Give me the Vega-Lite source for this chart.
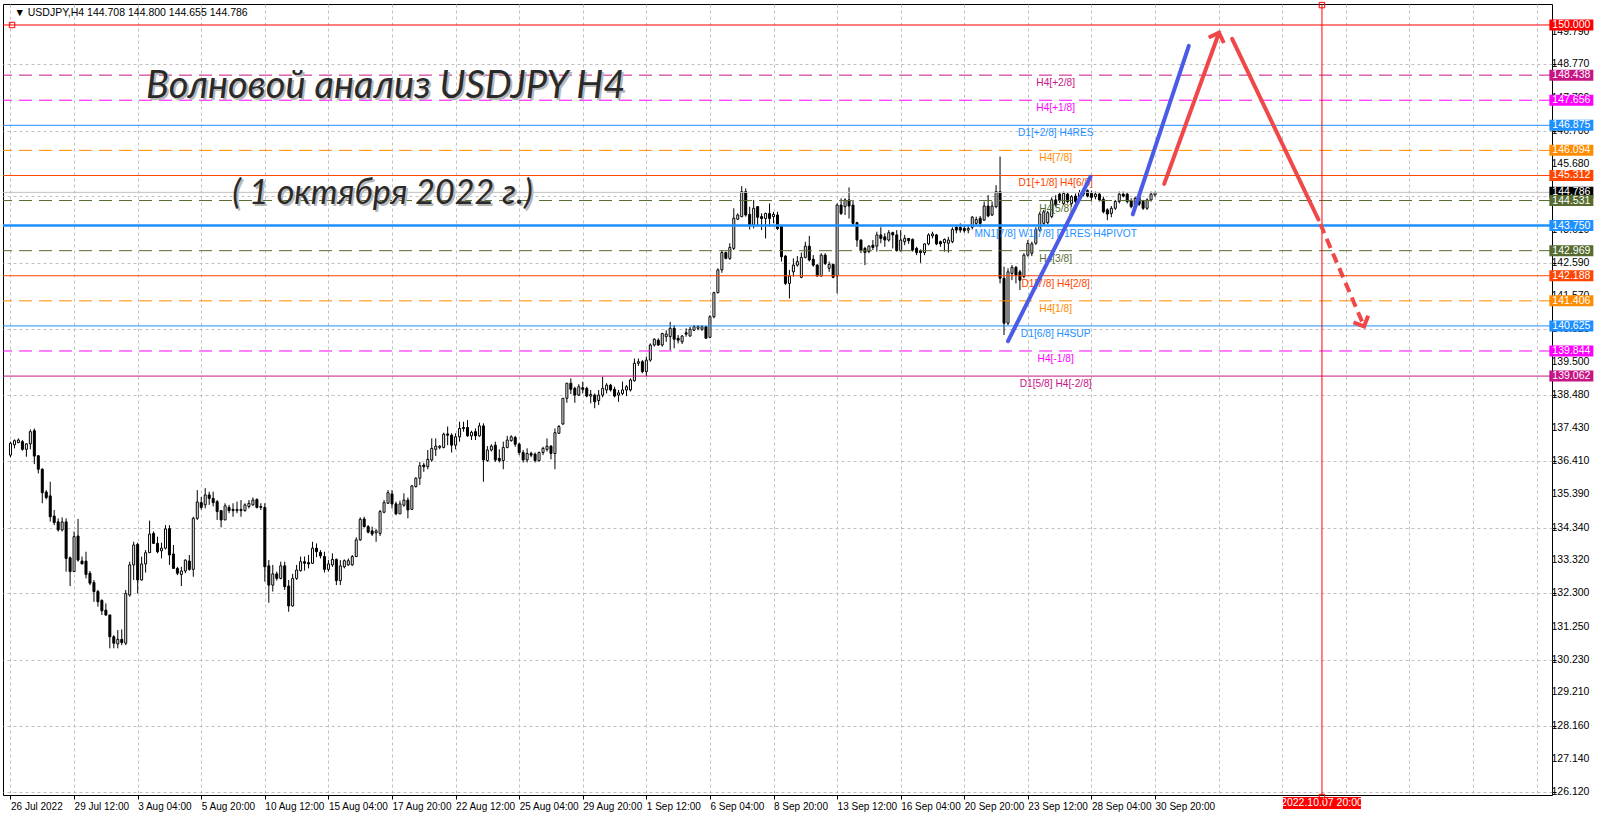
{
"$schema":"https://vega.github.io/schema/vega-lite/v6.json",
"width":1549,"height":791,
"autosize":{"type":"none"},
"padding":{"left":3,"top":4,"right":48,"bottom":22},
"background":"white",
"config":{"view":{"stroke":"black","strokeWidth":1},"font":"Liberation Sans","axis":{"labelOverlap":false},"axisY":{"labelOverlap":false},"axisQuantitative":{"labelOverlap":false}},
"datasets":{
"candles":[
{"i":0,"o":136.60,"h":137.02,"l":136.53,"c":136.97},
{"i":1,"o":136.92,"h":137.09,"l":136.81,"c":137.05},
{"i":2,"o":136.99,"h":137.12,"l":136.97,"c":137.07},
{"i":3,"o":137.02,"h":137.07,"l":136.74,"c":136.78},
{"i":4,"o":136.78,"h":136.97,"l":136.55,"c":136.95},
{"i":5,"o":136.95,"h":137.40,"l":136.78,"c":137.33},
{"i":6,"o":137.36,"h":137.43,"l":136.32,"c":136.57},
{"i":7,"o":136.58,"h":136.60,"l":136.03,"c":136.16},
{"i":8,"o":136.16,"h":136.19,"l":135.10,"c":135.43},
{"i":9,"o":135.45,"h":135.51,"l":135.22,"c":135.28},
{"i":10,"o":135.33,"h":135.77,"l":134.53,"c":134.68},
{"i":11,"o":134.70,"h":134.89,"l":134.42,"c":134.50},
{"i":12,"o":134.52,"h":134.63,"l":134.22,"c":134.27},
{"i":13,"o":134.27,"h":134.66,"l":134.22,"c":134.52},
{"i":14,"o":134.52,"h":134.63,"l":132.97,"c":133.38},
{"i":15,"o":133.40,"h":133.44,"l":132.52,"c":132.97},
{"i":16,"o":132.97,"h":134.22,"l":132.97,"c":134.06},
{"i":17,"o":134.08,"h":134.61,"l":133.28,"c":133.33},
{"i":18,"o":133.30,"h":133.44,"l":133.21,"c":133.21},
{"i":19,"o":133.30,"h":133.59,"l":132.76,"c":132.88},
{"i":20,"o":132.92,"h":132.99,"l":132.55,"c":132.61},
{"i":21,"o":132.63,"h":132.71,"l":132.03,"c":132.35},
{"i":22,"o":132.35,"h":132.40,"l":131.88,"c":132.03},
{"i":23,"o":132.07,"h":132.11,"l":131.62,"c":131.75},
{"i":24,"o":131.77,"h":131.98,"l":131.59,"c":131.62},
{"i":25,"o":131.62,"h":131.62,"l":130.58,"c":130.94},
{"i":26,"o":130.94,"h":130.99,"l":130.58,"c":130.74},
{"i":27,"o":130.72,"h":131.15,"l":130.58,"c":130.86},
{"i":28,"o":130.86,"h":131.17,"l":130.68,"c":130.76},
{"i":29,"o":130.74,"h":132.40,"l":130.68,"c":132.29},
{"i":30,"o":132.24,"h":133.28,"l":132.19,"c":133.18},
{"i":31,"o":133.18,"h":133.90,"l":132.71,"c":133.80},
{"i":32,"o":133.82,"h":133.87,"l":132.29,"c":132.71},
{"i":33,"o":132.71,"h":133.44,"l":132.69,"c":133.21},
{"i":34,"o":133.21,"h":133.64,"l":132.94,"c":133.56},
{"i":35,"o":133.56,"h":134.56,"l":133.56,"c":134.14},
{"i":36,"o":134.16,"h":134.22,"l":133.83,"c":133.85},
{"i":37,"o":133.85,"h":134.06,"l":133.54,"c":133.59},
{"i":38,"o":133.62,"h":133.87,"l":133.38,"c":133.70},
{"i":39,"o":133.70,"h":134.42,"l":133.66,"c":134.30},
{"i":40,"o":134.31,"h":134.42,"l":133.18,"c":133.49},
{"i":41,"o":133.52,"h":133.80,"l":133.07,"c":133.07},
{"i":42,"o":133.07,"h":133.12,"l":132.86,"c":132.92},
{"i":43,"o":132.88,"h":133.12,"l":132.52,"c":132.99},
{"i":44,"o":132.99,"h":133.35,"l":132.92,"c":133.33},
{"i":45,"o":133.30,"h":133.49,"l":133.00,"c":133.04},
{"i":46,"o":133.04,"h":134.68,"l":132.81,"c":134.63},
{"i":47,"o":134.63,"h":135.51,"l":134.58,"c":135.14},
{"i":48,"o":135.12,"h":135.30,"l":134.90,"c":134.97},
{"i":49,"o":135.05,"h":135.57,"l":134.94,"c":135.36},
{"i":50,"o":135.36,"h":135.46,"l":135.05,"c":135.25},
{"i":51,"o":135.25,"h":135.46,"l":135.00,"c":135.12},
{"i":52,"o":135.15,"h":135.20,"l":134.58,"c":134.84},
{"i":53,"o":134.87,"h":134.89,"l":134.35,"c":134.58},
{"i":54,"o":134.58,"h":135.10,"l":134.58,"c":135.02},
{"i":55,"o":134.97,"h":135.05,"l":134.79,"c":134.87},
{"i":56,"o":134.91,"h":135.10,"l":134.68,"c":134.87},
{"i":57,"o":134.87,"h":135.15,"l":134.79,"c":134.91},
{"i":58,"o":134.91,"h":135.20,"l":134.68,"c":134.87},
{"i":59,"o":134.87,"h":135.10,"l":134.84,"c":135.05},
{"i":60,"o":135.00,"h":135.20,"l":134.94,"c":135.10},
{"i":61,"o":135.05,"h":135.28,"l":135.02,"c":135.20},
{"i":62,"o":135.22,"h":135.25,"l":134.94,"c":134.97},
{"i":63,"o":134.97,"h":135.10,"l":134.89,"c":135.00},
{"i":64,"o":134.97,"h":135.10,"l":132.66,"c":133.12},
{"i":65,"o":133.15,"h":133.33,"l":132.00,"c":132.55},
{"i":66,"o":132.55,"h":133.18,"l":132.35,"c":132.90},
{"i":67,"o":132.90,"h":132.97,"l":132.69,"c":132.76},
{"i":68,"o":132.76,"h":133.28,"l":132.73,"c":133.15},
{"i":69,"o":133.15,"h":133.28,"l":132.40,"c":132.50},
{"i":70,"o":132.52,"h":132.71,"l":131.72,"c":131.90},
{"i":71,"o":131.90,"h":132.90,"l":131.88,"c":132.76},
{"i":72,"o":132.76,"h":133.18,"l":132.71,"c":133.02},
{"i":73,"o":133.00,"h":133.44,"l":132.97,"c":133.28},
{"i":74,"o":133.28,"h":133.44,"l":133.00,"c":133.23},
{"i":75,"o":133.25,"h":133.49,"l":133.07,"c":133.21},
{"i":76,"o":133.23,"h":133.90,"l":133.21,"c":133.70},
{"i":77,"o":133.70,"h":133.85,"l":133.42,"c":133.59},
{"i":78,"o":133.57,"h":133.64,"l":133.38,"c":133.46},
{"i":79,"o":133.44,"h":133.59,"l":132.94,"c":133.04},
{"i":80,"o":133.04,"h":133.33,"l":132.97,"c":133.21},
{"i":81,"o":133.18,"h":133.54,"l":133.12,"c":133.35},
{"i":82,"o":133.35,"h":133.38,"l":132.55,"c":132.69},
{"i":83,"o":132.69,"h":133.33,"l":132.55,"c":133.15},
{"i":84,"o":133.12,"h":133.35,"l":133.07,"c":133.31},
{"i":85,"o":133.18,"h":133.38,"l":133.15,"c":133.31},
{"i":86,"o":133.18,"h":133.49,"l":133.15,"c":133.44},
{"i":87,"o":133.44,"h":134.04,"l":133.42,"c":133.96},
{"i":88,"o":133.96,"h":134.66,"l":133.93,"c":134.60},
{"i":89,"o":134.61,"h":134.68,"l":134.35,"c":134.37},
{"i":90,"o":134.37,"h":134.42,"l":134.16,"c":134.20},
{"i":91,"o":134.24,"h":134.37,"l":134.08,"c":134.14},
{"i":92,"o":134.18,"h":134.29,"l":133.90,"c":134.24},
{"i":93,"o":134.16,"h":134.89,"l":134.08,"c":134.84},
{"i":94,"o":134.82,"h":135.20,"l":134.79,"c":135.12},
{"i":95,"o":135.10,"h":135.51,"l":135.08,"c":135.43},
{"i":96,"o":135.39,"h":135.51,"l":134.94,"c":135.08},
{"i":97,"o":135.08,"h":135.15,"l":134.73,"c":134.77},
{"i":98,"o":134.77,"h":135.18,"l":134.77,"c":135.08},
{"i":99,"o":135.04,"h":135.41,"l":134.99,"c":135.20},
{"i":100,"o":135.20,"h":135.28,"l":134.63,"c":134.89},
{"i":101,"o":134.91,"h":135.67,"l":134.89,"c":135.64},
{"i":102,"o":135.62,"h":135.91,"l":135.59,"c":135.88},
{"i":103,"o":135.88,"h":136.39,"l":135.67,"c":136.27},
{"i":104,"o":136.29,"h":136.36,"l":136.08,"c":136.24},
{"i":105,"o":136.24,"h":136.76,"l":136.16,"c":136.47},
{"i":106,"o":136.45,"h":137.12,"l":136.39,"c":136.81},
{"i":107,"o":136.78,"h":137.12,"l":136.57,"c":136.88},
{"i":108,"o":136.84,"h":136.91,"l":136.78,"c":136.88},
{"i":109,"o":136.84,"h":137.30,"l":136.81,"c":137.25},
{"i":110,"o":137.26,"h":137.49,"l":136.91,"c":137.22},
{"i":111,"o":137.22,"h":137.28,"l":136.68,"c":136.91},
{"i":112,"o":136.91,"h":137.28,"l":136.78,"c":137.17},
{"i":113,"o":137.17,"h":137.64,"l":137.02,"c":137.43},
{"i":114,"o":137.46,"h":137.64,"l":137.33,"c":137.43},
{"i":115,"o":137.46,"h":137.69,"l":137.17,"c":137.20},
{"i":116,"o":137.20,"h":137.36,"l":137.07,"c":137.31},
{"i":117,"o":137.33,"h":137.43,"l":137.07,"c":137.20},
{"i":118,"o":137.20,"h":137.61,"l":137.17,"c":137.51},
{"i":119,"o":137.51,"h":137.59,"l":135.77,"c":136.45},
{"i":120,"o":136.43,"h":136.88,"l":136.39,"c":136.76},
{"i":121,"o":136.76,"h":136.94,"l":136.71,"c":136.88},
{"i":122,"o":136.91,"h":137.02,"l":136.39,"c":136.45},
{"i":123,"o":136.50,"h":136.78,"l":136.37,"c":136.43},
{"i":124,"o":136.43,"h":137.02,"l":136.16,"c":136.84},
{"i":125,"o":136.84,"h":137.20,"l":136.81,"c":137.07},
{"i":126,"o":137.05,"h":137.22,"l":137.02,"c":137.17},
{"i":127,"o":137.15,"h":137.20,"l":136.86,"c":136.94},
{"i":128,"o":136.94,"h":136.99,"l":136.60,"c":136.68},
{"i":129,"o":136.68,"h":136.76,"l":136.37,"c":136.45},
{"i":130,"o":136.45,"h":136.81,"l":136.37,"c":136.65},
{"i":131,"o":136.65,"h":136.71,"l":136.53,"c":136.60},
{"i":132,"o":136.63,"h":136.68,"l":136.37,"c":136.43},
{"i":133,"o":136.43,"h":136.71,"l":136.39,"c":136.68},
{"i":134,"o":136.68,"h":136.86,"l":136.60,"c":136.81},
{"i":135,"o":136.78,"h":137.12,"l":136.71,"c":136.88},
{"i":136,"o":136.88,"h":136.91,"l":136.47,"c":136.65},
{"i":137,"o":136.65,"h":137.43,"l":136.16,"c":137.30},
{"i":138,"o":137.28,"h":137.54,"l":137.26,"c":137.49},
{"i":139,"o":137.57,"h":138.37,"l":137.54,"c":138.37},
{"i":140,"o":138.37,"h":138.84,"l":138.23,"c":138.84},
{"i":141,"o":138.84,"h":138.99,"l":138.50,"c":138.65},
{"i":142,"o":138.68,"h":138.73,"l":138.23,"c":138.47},
{"i":143,"o":138.47,"h":138.81,"l":138.44,"c":138.73},
{"i":144,"o":138.70,"h":138.89,"l":138.52,"c":138.65},
{"i":145,"o":138.68,"h":138.73,"l":138.40,"c":138.44},
{"i":146,"o":138.44,"h":138.63,"l":138.21,"c":138.49},
{"i":147,"o":138.47,"h":138.52,"l":138.06,"c":138.26},
{"i":148,"o":138.30,"h":138.63,"l":138.16,"c":138.47},
{"i":149,"o":138.47,"h":139.04,"l":138.40,"c":138.68},
{"i":150,"o":138.63,"h":138.84,"l":138.52,"c":138.78},
{"i":151,"o":138.78,"h":138.82,"l":138.58,"c":138.63},
{"i":152,"o":138.65,"h":138.73,"l":138.40,"c":138.44},
{"i":153,"o":138.47,"h":138.63,"l":138.26,"c":138.54},
{"i":154,"o":138.52,"h":138.89,"l":138.47,"c":138.63},
{"i":155,"o":138.63,"h":138.78,"l":138.44,"c":138.73},
{"i":156,"o":138.63,"h":138.99,"l":138.58,"c":138.94},
{"i":157,"o":138.92,"h":139.61,"l":138.89,"c":139.46},
{"i":158,"o":139.46,"h":139.61,"l":139.38,"c":139.51},
{"i":159,"o":139.51,"h":139.56,"l":139.15,"c":139.20},
{"i":160,"o":139.20,"h":139.67,"l":139.06,"c":139.56},
{"i":161,"o":139.56,"h":140.08,"l":139.51,"c":140.03},
{"i":162,"o":140.03,"h":140.24,"l":139.98,"c":140.21},
{"i":163,"o":140.18,"h":140.24,"l":140.00,"c":140.03},
{"i":164,"o":140.03,"h":140.41,"l":139.98,"c":140.39},
{"i":165,"o":140.29,"h":140.49,"l":140.13,"c":140.37},
{"i":166,"o":140.29,"h":140.75,"l":139.87,"c":140.55},
{"i":167,"o":140.55,"h":140.65,"l":139.93,"c":140.21},
{"i":168,"o":140.24,"h":140.34,"l":140.08,"c":140.18},
{"i":169,"o":140.13,"h":140.34,"l":140.06,"c":140.31},
{"i":170,"o":140.41,"h":140.55,"l":140.29,"c":140.37},
{"i":171,"o":140.31,"h":140.60,"l":140.29,"c":140.52},
{"i":172,"o":140.49,"h":140.65,"l":140.47,"c":140.60},
{"i":173,"o":140.55,"h":140.65,"l":140.49,"c":140.60},
{"i":174,"o":140.52,"h":140.65,"l":140.47,"c":140.60},
{"i":175,"o":140.60,"h":140.62,"l":140.24,"c":140.24},
{"i":176,"o":140.27,"h":140.96,"l":140.24,"c":140.91},
{"i":177,"o":140.91,"h":141.69,"l":140.86,"c":141.66},
{"i":178,"o":141.66,"h":142.42,"l":141.64,"c":142.37},
{"i":179,"o":142.37,"h":142.99,"l":142.28,"c":142.91},
{"i":180,"o":142.91,"h":142.94,"l":142.70,"c":142.73},
{"i":181,"o":142.73,"h":143.20,"l":142.68,"c":143.07},
{"i":182,"o":143.04,"h":144.29,"l":142.99,"c":143.98},
{"i":183,"o":143.95,"h":144.13,"l":143.92,"c":144.08},
{"i":184,"o":144.03,"h":144.98,"l":144.01,"c":144.81},
{"i":185,"o":144.81,"h":144.91,"l":144.03,"c":144.08},
{"i":186,"o":144.10,"h":144.34,"l":143.63,"c":143.77},
{"i":187,"o":143.77,"h":144.55,"l":143.66,"c":144.29},
{"i":188,"o":144.34,"h":144.36,"l":143.72,"c":144.01},
{"i":189,"o":144.03,"h":144.13,"l":143.61,"c":143.97},
{"i":190,"o":143.97,"h":144.15,"l":143.35,"c":144.13},
{"i":191,"o":144.13,"h":144.44,"l":143.72,"c":143.97},
{"i":192,"o":144.03,"h":144.18,"l":143.82,"c":144.10},
{"i":193,"o":144.08,"h":144.18,"l":143.61,"c":143.66},
{"i":194,"o":143.74,"h":143.77,"l":142.63,"c":142.78},
{"i":195,"o":142.80,"h":142.83,"l":141.90,"c":141.95},
{"i":196,"o":141.95,"h":142.37,"l":141.48,"c":142.18},
{"i":197,"o":142.31,"h":142.73,"l":142.16,"c":142.52},
{"i":198,"o":142.52,"h":142.80,"l":142.47,"c":142.63},
{"i":199,"o":142.14,"h":142.91,"l":142.11,"c":142.76},
{"i":200,"o":142.76,"h":143.25,"l":142.73,"c":143.11},
{"i":201,"o":143.11,"h":143.43,"l":142.63,"c":142.68},
{"i":202,"o":142.70,"h":142.83,"l":142.47,"c":142.52},
{"i":203,"o":142.52,"h":142.55,"l":142.16,"c":142.18},
{"i":204,"o":142.18,"h":142.89,"l":142.16,"c":142.83},
{"i":205,"o":142.83,"h":142.89,"l":142.52,"c":142.57},
{"i":206,"o":142.42,"h":142.63,"l":142.31,"c":142.54},
{"i":207,"o":142.54,"h":142.57,"l":142.11,"c":142.14},
{"i":208,"o":142.18,"h":144.44,"l":141.64,"c":144.39},
{"i":209,"o":144.39,"h":144.60,"l":144.08,"c":144.13},
{"i":210,"o":144.34,"h":144.60,"l":144.08,"c":144.55},
{"i":211,"o":144.55,"h":144.94,"l":143.97,"c":144.36},
{"i":212,"o":144.39,"h":144.55,"l":143.77,"c":143.82},
{"i":213,"o":143.84,"h":143.87,"l":143.09,"c":143.30},
{"i":214,"o":143.30,"h":143.32,"l":142.89,"c":142.99},
{"i":215,"o":143.04,"h":143.09,"l":142.52,"c":142.91},
{"i":216,"o":142.94,"h":143.14,"l":142.89,"c":143.11},
{"i":217,"o":143.14,"h":143.30,"l":142.99,"c":143.07},
{"i":218,"o":143.11,"h":143.56,"l":142.94,"c":143.46},
{"i":219,"o":143.46,"h":143.70,"l":143.20,"c":143.35},
{"i":220,"o":143.40,"h":143.51,"l":143.09,"c":143.30},
{"i":221,"o":143.30,"h":143.61,"l":143.25,"c":143.53},
{"i":222,"o":143.53,"h":143.56,"l":143.04,"c":143.46},
{"i":223,"o":143.46,"h":143.61,"l":142.94,"c":142.97},
{"i":224,"o":142.97,"h":143.61,"l":142.94,"c":143.30},
{"i":225,"o":143.25,"h":143.46,"l":143.14,"c":143.35},
{"i":226,"o":143.35,"h":143.35,"l":143.18,"c":143.28},
{"i":227,"o":143.32,"h":143.35,"l":142.94,"c":142.99},
{"i":228,"o":143.04,"h":143.09,"l":142.83,"c":142.91},
{"i":229,"o":142.96,"h":143.01,"l":142.59,"c":142.91},
{"i":230,"o":142.91,"h":143.20,"l":142.83,"c":143.18},
{"i":231,"o":143.18,"h":143.51,"l":143.14,"c":143.46},
{"i":232,"o":143.43,"h":143.56,"l":143.35,"c":143.49},
{"i":233,"o":143.46,"h":143.49,"l":143.14,"c":143.18},
{"i":234,"o":143.25,"h":143.28,"l":143.09,"c":143.18},
{"i":235,"o":143.22,"h":143.35,"l":142.94,"c":143.32},
{"i":236,"o":143.20,"h":143.40,"l":142.91,"c":143.30},
{"i":237,"o":143.25,"h":143.70,"l":143.20,"c":143.63},
{"i":238,"o":143.70,"h":143.77,"l":143.51,"c":143.61},
{"i":239,"o":143.69,"h":143.82,"l":143.53,"c":143.61},
{"i":240,"o":143.66,"h":143.77,"l":143.53,"c":143.59},
{"i":241,"o":143.61,"h":143.74,"l":143.51,"c":143.66},
{"i":242,"o":143.70,"h":144.05,"l":143.63,"c":144.01},
{"i":243,"o":143.82,"h":144.03,"l":143.74,"c":143.94},
{"i":244,"o":143.98,"h":144.05,"l":143.70,"c":143.82},
{"i":245,"o":143.92,"h":144.50,"l":143.90,"c":144.36},
{"i":246,"o":144.36,"h":144.70,"l":144.01,"c":144.05},
{"i":247,"o":144.08,"h":144.50,"l":144.05,"c":144.36},
{"i":248,"o":144.34,"h":145.01,"l":144.29,"c":144.81},
{"i":249,"o":144.81,"h":145.90,"l":141.95,"c":142.11},
{"i":250,"o":142.11,"h":142.47,"l":140.34,"c":140.71},
{"i":251,"o":140.71,"h":142.42,"l":140.65,"c":142.31},
{"i":252,"o":142.26,"h":142.52,"l":142.05,"c":142.45},
{"i":253,"o":142.45,"h":142.49,"l":141.95,"c":142.21},
{"i":254,"o":142.31,"h":142.37,"l":141.74,"c":142.05},
{"i":255,"o":142.16,"h":142.89,"l":142.11,"c":142.83},
{"i":256,"o":142.83,"h":143.30,"l":142.78,"c":143.20},
{"i":257,"o":142.89,"h":143.25,"l":142.80,"c":143.18},
{"i":258,"o":143.20,"h":143.70,"l":143.15,"c":143.63},
{"i":259,"o":143.61,"h":144.18,"l":143.56,"c":144.11},
{"i":260,"o":143.82,"h":144.24,"l":143.77,"c":144.18},
{"i":261,"o":143.84,"h":144.21,"l":143.80,"c":144.15},
{"i":262,"o":144.03,"h":144.63,"l":143.98,"c":144.55},
{"i":263,"o":144.55,"h":144.70,"l":144.34,"c":144.39},
{"i":264,"o":144.73,"h":144.78,"l":144.46,"c":144.53},
{"i":265,"o":144.44,"h":144.81,"l":144.39,"c":144.75},
{"i":266,"o":144.73,"h":144.78,"l":144.44,"c":144.50},
{"i":267,"o":144.44,"h":144.70,"l":144.34,"c":144.65},
{"i":268,"o":144.67,"h":144.75,"l":144.39,"c":144.50},
{"i":269,"o":144.57,"h":144.86,"l":144.53,"c":144.78},
{"i":270,"o":144.73,"h":144.91,"l":144.67,"c":144.86},
{"i":271,"o":144.84,"h":144.88,"l":144.63,"c":144.67},
{"i":272,"o":144.75,"h":144.84,"l":144.50,"c":144.63},
{"i":273,"o":144.65,"h":144.81,"l":144.57,"c":144.73},
{"i":274,"o":144.73,"h":144.78,"l":144.50,"c":144.55},
{"i":275,"o":144.57,"h":144.65,"l":144.13,"c":144.18},
{"i":276,"o":144.24,"h":144.29,"l":143.92,"c":144.11},
{"i":277,"o":144.13,"h":144.36,"l":144.01,"c":144.29},
{"i":278,"o":144.29,"h":144.55,"l":144.24,"c":144.50},
{"i":279,"o":144.50,"h":144.81,"l":144.44,"c":144.73},
{"i":280,"o":144.73,"h":144.81,"l":144.63,"c":144.67},
{"i":281,"o":144.73,"h":144.78,"l":144.44,"c":144.50},
{"i":282,"o":144.53,"h":144.60,"l":144.29,"c":144.34},
{"i":283,"o":144.39,"h":144.65,"l":144.34,"c":144.60},
{"i":284,"o":144.63,"h":144.70,"l":144.36,"c":144.42},
{"i":285,"o":144.50,"h":144.55,"l":144.24,"c":144.29},
{"i":286,"o":144.29,"h":144.60,"l":144.24,"c":144.55},
{"i":287,"o":144.55,"h":144.81,"l":144.50,"c":144.73},
{"i":288,"o":144.708,"h":144.800,"l":144.655,"c":144.786}
],
"levels":[
{"p":150.000,"lvl":"hline","src":"obj","lbl":""},
{"p":148.438,"lvl":"+2/8","src":"H4","lbl":"H4[+2/8]"},
{"p":147.656,"lvl":"+1/8","src":"H4","lbl":"H4[+1/8]"},
{"p":146.875,"lvl":"8/8","src":"D1","lbl":"D1[+2/8] H4RES"},
{"p":146.094,"lvl":"7/8","src":"H4","lbl":"H4[7/8]"},
{"p":145.312,"lvl":"6/8","src":"D1","lbl":"D1[+1/8] H4[6/8]"},
{"p":144.786,"lvl":"bid","src":"obj","lbl":""},
{"p":144.531,"lvl":"5/8","src":"H4","lbl":"H4[5/8]"},
{"p":143.750,"lvl":"4/8","src":"D1","lbl":"MN1[7/8] W1[7/8] D1RES H4PIVOT"},
{"p":142.969,"lvl":"3/8","src":"H4","lbl":"H4[3/8]"},
{"p":142.188,"lvl":"2/8","src":"D1","lbl":"D1[7/8] H4[2/8]"},
{"p":141.406,"lvl":"1/8","src":"H4","lbl":"H4[1/8]"},
{"p":140.625,"lvl":"0/8","src":"D1","lbl":"D1[6/8] H4SUP"},
{"p":139.844,"lvl":"-1/8","src":"H4","lbl":"H4[-1/8]"},
{"p":139.062,"lvl":"-2/8","src":"D1","lbl":"D1[5/8] H4[-2/8]"}
],
"ticksY":[
{"p":126.12},{"p":127.14},{"p":128.16},{"p":129.21},{"p":130.23},{"p":131.25},{"p":132.3},{"p":133.32},{"p":134.34},{"p":135.39},{"p":136.41},{"p":137.43},{"p":138.48},{"p":139.5},{"p":140.52},{"p":141.57},{"p":142.59},{"p":143.61},{"p":144.66},{"p":145.68},{"p":146.7},{"p":147.72},{"p":148.77},{"p":149.79}
],
"arrows":[
{"seg":"b1","i":251,"p":140.15},
{"seg":"b1","i":271.75,"p":145.27},
{"seg":"b2","i":282.4,"p":144.10},
{"seg":"b2","i":296.5,"p":149.35},
{"seg":"r1","i":290.3,"p":145.05},
{"seg":"r1","i":304.1,"p":149.76,"tip":"up"},
{"seg":"r2","i":307.4,"p":149.57},
{"seg":"r2","i":329.1,"p":143.94},
{"seg":"r3","i":329.6,"p":143.80},
{"seg":"r3","i":340.6,"p":140.61,"tip":"down"}
]
},
"layer":[
{
"data":{"name":"candles"},
"mark":{"type":"rule","color":"black","strokeWidth":1},
"encoding":{
"x":{"field":"i","type":"quantitative","scale":{"domain":[-0.625,386.625],"nice":false,"zero":false},
"axis":{"title":null,"values":[0,8,16,24,32,40,48,56,64,72,80,88,96,104,112,120,128,136,144,152,160,168,176,184,192,200,208,216,224,232,240,248,256,264,272,280,288,296,304,312,320,328,336,344,352,360,368,376,384],
"labelExpr":"(datum.value % 16 == 0 && datum.value <= 288) ? ['26 Jul 2022','29 Jul 12:00','3 Aug 04:00','5 Aug 20:00','10 Aug 12:00','15 Aug 04:00','17 Aug 20:00','22 Aug 12:00','25 Aug 04:00','29 Aug 20:00','1 Sep 12:00','6 Sep 04:00','8 Sep 20:00','13 Sep 12:00','16 Sep 04:00','20 Sep 20:00','23 Sep 12:00','28 Sep 04:00','30 Sep 20:00'][datum.value/16] : ''",
"grid":true,"gridColor":"#c0c0c0","gridDash":[3,3],"gridWidth":1,
"domain":false,"tickColor":"black","tickSize":4,
"tickOpacity":{"condition":{"test":"datum.value % 16 == 0 && datum.value <= 288","value":1},"value":0},
"labelAlign":"left","labelBaseline":"top","labelPadding":2,"labelFont":"Liberation Sans Narrow, Liberation Sans","labelFontSize":10,"labelColor":"black","labelOverlap":false,"labelBound":false,"labelFlush":false}},
"y":{"field":"l","type":"quantitative","scale":{"domain":[126.011,150.654],"nice":false,"zero":false},
"axis":{"title":null,"orient":"right","values":[126.12,127.14,128.16,129.21,130.23,131.25,132.3,133.32,134.34,135.39,136.41,137.43,138.48,139.5,140.52,141.57,142.59,143.61,144.66,145.68,146.7,147.72,148.77,149.79],
"format":".3f","grid":true,"gridColor":"#c0c0c0","gridDash":[3,3],"gridWidth":1,
"domain":false,"tickColor":"black","tickSize":4,"labels":false}},
"y2":{"field":"h"}
}
},
{
"data":{"name":"candles"},
"mark":{"type":"bar","size":2,"stroke":"black","strokeWidth":1},
"encoding":{
"x":{"field":"i","type":"quantitative"},
"y":{"field":"o","type":"quantitative"},
"y2":{"field":"c"},
"fill":{"condition":{"test":"datum.c >= datum.o","value":"white"},"value":"black"}
}
},
{
"data":{"name":"ticksY"},
"mark":{"type":"text","align":"left","baseline":"middle","color":"black","fontSize":10.5,"font":"Liberation Sans Narrow, Liberation Sans"},
"encoding":{
"x":{"datum":387.75},
"y":{"field":"p","type":"quantitative"},
"text":{"field":"p","type":"quantitative","format":".3f"}
}
},
{
"data":{"name":"levels"},
"transform":[{"filter":"datum.lvl != 'bid'"}],
"mark":{"type":"rule"},
"encoding":{
"y":{"field":"p","type":"quantitative"},
"color":{"field":"lvl","type":"nominal","legend":null,"scale":{"domain":["hline","+2/8","+1/8","8/8","7/8","6/8","5/8","4/8","3/8","2/8","1/8","0/8","-1/8","-2/8","bid"],"range":["#ff0000","#c71585","#ff00ff","#1e90ff","#ff8c00","#ff4500","#556b2f","#1e90ff","#556b2f","#ff4500","#ff8c00","#1e90ff","#ff00ff","#c71585","#000000"]}},
"strokeDash":{"field":"src","type":"nominal","legend":null,"scale":{"domain":["D1","H4","obj"],"range":[[1,0],[13,7],[1,0]]}},
"strokeWidth":{"condition":{"test":"datum.lvl == '4/8'","value":2.5},"value":1}
}
},
{
"data":{"name":"levels"},
"transform":[{"filter":"datum.lvl == 'bid'"}],
"mark":{"type":"rule","color":"#c0c0c0","strokeWidth":1},
"encoding":{"y":{"field":"p","type":"quantitative"}}
},
{
"data":{"values":[{}]},
"mark":{"type":"rule","color":"#ff0000","strokeWidth":1},
"encoding":{"x":{"datum":330}}
},
{
"data":{"name":"levels"},
"transform":[{"filter":"datum.lbl != ''"}],
"mark":{"type":"text","align":"center","baseline":"middle","dy":8,"fontSize":10.2,"font":"Liberation Sans"},
"encoding":{
"x":{"datum":263},
"y":{"field":"p","type":"quantitative"},
"text":{"field":"lbl"},
"color":{"field":"lvl","type":"nominal","legend":null}
}
},
{
"data":{"name":"arrows"},
"transform":[{"filter":"datum.seg == 'b1' || datum.seg == 'b2'"}],
"mark":{"type":"line","color":"#4a5be6","strokeWidth":4,"strokeCap":"round"},
"encoding":{"x":{"field":"i","type":"quantitative"},"y":{"field":"p","type":"quantitative"},"detail":{"field":"seg"}}
},
{
"data":{"name":"arrows"},
"transform":[{"filter":"datum.seg == 'r1' || datum.seg == 'r2'"}],
"mark":{"type":"line","color":"#f04848","strokeWidth":4,"strokeCap":"round"},
"encoding":{"x":{"field":"i","type":"quantitative"},"y":{"field":"p","type":"quantitative"},"detail":{"field":"seg"}}
},
{
"data":{"name":"arrows"},
"transform":[{"filter":"datum.seg == 'r3'"}],
"mark":{"type":"line","color":"#f04848","strokeWidth":4,"strokeDash":[10,6]},
"encoding":{"x":{"field":"i","type":"quantitative"},"y":{"field":"p","type":"quantitative"}}
},
{
"data":{"name":"arrows"},
"transform":[{"filter":"datum.tip == 'up'"}],
"mark":{"type":"point","shape":"M-1,1L0,0L1,1","filled":false,"stroke":"#f04848","strokeWidth":4,"size":260,"angle":20,"opacity":1},
"encoding":{"x":{"field":"i","type":"quantitative"},"y":{"field":"p","type":"quantitative"}}
},
{
"data":{"name":"arrows"},
"transform":[{"filter":"datum.tip == 'down'"}],
"mark":{"type":"point","shape":"M-1,1L0,0L1,1","filled":false,"stroke":"#f04848","strokeWidth":4,"size":260,"angle":156,"opacity":1},
"encoding":{"x":{"field":"i","type":"quantitative"},"y":{"field":"p","type":"quantitative"}}
},
{
"data":{"name":"levels"},
"mark":{"type":"tick","orient":"horizontal","size":44,"thickness":11,"opacity":1},
"encoding":{
"x":{"datum":392.75},
"y":{"field":"p","type":"quantitative"},
"color":{"field":"lvl","type":"nominal","legend":null}
}
},
{
"data":{"name":"levels"},
"mark":{"type":"text","align":"center","baseline":"middle","color":"white","fontSize":10.5,"font":"Liberation Sans Narrow, Liberation Sans"},
"encoding":{
"x":{"datum":392.75},
"y":{"field":"p","type":"quantitative"},
"text":{"field":"p","type":"quantitative","format":".3f"}
}
},
{
"data":{"values":[{"t":"2022.10.07 20:00"}]},
"mark":{"type":"tick","orient":"horizontal","size":78,"thickness":12,"color":"#ff0000","opacity":1},
"encoding":{"x":{"datum":330},"y":{"datum":125.76}}
},
{
"data":{"values":[{"t":"2022.10.07 20:00"}]},
"mark":{"type":"text","align":"center","baseline":"middle","color":"white","fontSize":10.5,"font":"Liberation Sans Narrow, Liberation Sans"},
"encoding":{"x":{"datum":330},"y":{"datum":125.76},"text":{"field":"t"}}
},
{
"data":{"values":[{"i":0.4,"p":150.0},{"i":330,"p":150.62},{"i":330,"p":125.95}]},
"mark":{"type":"square","filled":false,"stroke":"#ff0000","strokeWidth":1,"size":30,"opacity":1},
"encoding":{"x":{"field":"i","type":"quantitative"},"y":{"field":"p","type":"quantitative"}}
},
{
"data":{"values":[{}]},
"mark":{"type":"text","align":"left","baseline":"middle","color":"black","fontSize":10.5,"font":"Liberation Sans Narrow, Liberation Sans","text":"▼  USDJPY,H4  144.708 144.800 144.655 144.786"},
"encoding":{"x":{"datum":1},"y":{"datum":150.38}}
},
{
"data":{"values":[{}]},
"mark":{"type":"text","align":"center","baseline":"middle","color":"#b8b8b8","fontSize":38,"font":"Lato","fontStyle":"italic","dx":2,"dy":2,"text":"Волновой анализ USDJPY H4"},
"encoding":{"x":{"datum":94.4},"y":{"datum":148.07}}
},
{
"data":{"values":[{}]},
"mark":{"type":"text","align":"center","baseline":"middle","color":"#2a2a2a","fontSize":38,"font":"Lato","fontStyle":"italic","text":"Волновой анализ USDJPY H4"},
"encoding":{"x":{"datum":94.4},"y":{"datum":148.07}}
},
{
"data":{"values":[{}]},
"mark":{"type":"text","align":"center","baseline":"middle","color":"#b8b8b8","fontSize":34,"font":"Lato","fontStyle":"italic","dx":2,"dy":2,"text":"( 1 октября 2022 г.)"},
"encoding":{"x":{"datum":93.6},"y":{"datum":144.73}}
},
{
"data":{"values":[{}]},
"mark":{"type":"text","align":"center","baseline":"middle","color":"#2a2a2a","fontSize":34,"font":"Lato","fontStyle":"italic","text":"( 1 октября 2022 г.)"},
"encoding":{"x":{"datum":93.6},"y":{"datum":144.73}}
}
],
"resolve":{"scale":{"strokeDash":"independent"}}
}
